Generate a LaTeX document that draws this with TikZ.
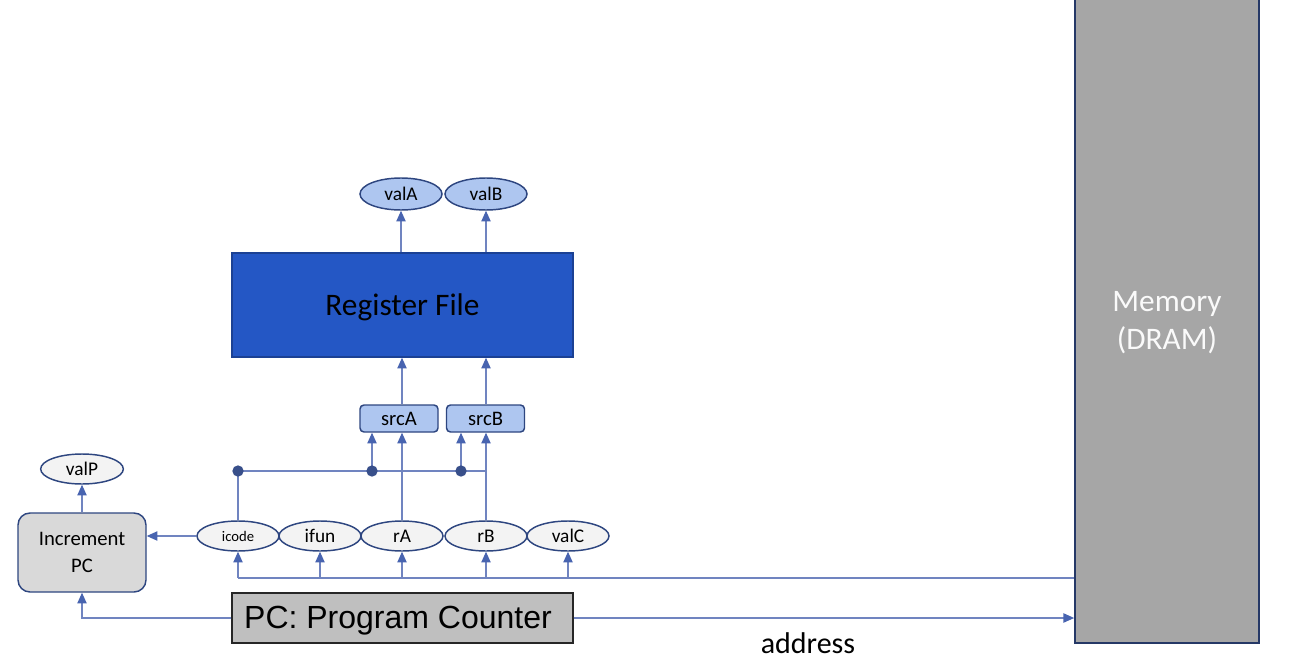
\documentclass[tikz,border=0pt]{standalone}
\usepackage{fontspec}
\setmainfont{Carlito}
\newfontfamily\arialf{Liberation Sans}
\usetikzlibrary{arrows.meta,shapes.geometric,calc}
\definecolor{lnc}{RGB}{112,132,192}
\definecolor{tipc}{RGB}{72,100,176}
\definecolor{bordc}{RGB}{46,70,128}
\definecolor{lblue}{RGB}{174,198,240}
\definecolor{lgray}{RGB}{243,243,243}
\definecolor{rfblue}{RGB}{36,87,197}
\definecolor{memgray}{RGB}{166,166,166}
\tikzset{
  ln/.style={draw=lnc, line width=0.8pt},
  arr/.style={ln, -{Triangle[length=8pt,width=7pt,fill=tipc,color=tipc]}},
  ovalg/.style={ellipse, draw=bordc, line width=1.1pt, fill=lgray, inner sep=0pt,
    minimum width=61.5pt, minimum height=22.5pt, font=\fontsize{14.5}{16}\selectfont},
  ovalb/.style={ellipse, draw=bordc, line width=1.1pt, fill=lblue, inner sep=0pt,
    minimum width=61.5pt, minimum height=24pt, font=\fontsize{14.5}{16}\selectfont},
  srcbox/.style={rectangle, rounded corners=3pt, draw=bordc, line width=1.1pt, fill=lblue,
    inner sep=0pt, minimum width=58.5pt, minimum height=20.25pt, font=\fontsize{15.5}{17}\selectfont},
  dot/.style={circle, fill=bordc!85!lnc, inner sep=0pt, minimum size=8.5pt},
}
\begin{document}
\begin{tikzpicture}[x=0.75pt,y=-0.75pt]
\useasboundingbox (0,0) rectangle (1299,660);
\clip (0,0) rectangle (1299,660);
% Memory
\node[rectangle, draw=bordc!80!black, line width=1.3pt, fill=memgray, inner sep=0pt,
  minimum width=138pt, minimum height=489pt] (mem) at (1167,317) {};
\node[align=center, text=white!96!gray, font=\fontsize{23.5}{28.5}\selectfont] (memtxt) at (1167,323) {Memory\\(DRAM)};
% Register file
\node[rectangle, draw=rfblue!75!black, line width=1.1pt, fill=rfblue, inner sep=0pt,
  minimum width=255.75pt, minimum height=78pt] (rf) at (402.5,305) {};
\node[font=\fontsize{23.5}{28}\selectfont] (rftxt) at (402.5,307) {Register File};
% valA valB
\node[ovalb] (valA) at (401,194) {valA};
\node[ovalb] (valB) at (486,194) {valB};
% srcA srcB
\node[srcbox] (srcA) at (399,418.5) {srcA};
\node[srcbox] (srcB) at (485.5,418.5) {srcB};
% field ellipses
\node[ovalg, font=\fontsize{11}{13}\selectfont] (icode) at (238,536) {icode};
\node[ovalg] (ifun) at (320,536) {ifun};
\node[ovalg] (rA) at (402,536) {rA};
\node[ovalg] (rB) at (486,536) {rB};
\node[ovalg] (valC) at (568,536) {valC};
% Increment PC
\node[rectangle, rounded corners=9pt, draw=bordc, line width=1.1pt, fill=black!15, inner sep=0pt,
  minimum width=96pt, minimum height=59.25pt, align=center, font=\fontsize{15.5}{20}\selectfont] (inc) at (82,552.5) {Increment\\PC};
\node[ovalg, minimum width=62pt] (valP) at (82,469) {valP};
% PC
\node[rectangle, draw=black!85, line width=1.1pt, fill=black!25, inner sep=0pt,
  minimum width=255.75pt, minimum height=37.5pt] (pc) at (402.5,618) {};
\node[font=\arialf\fontsize{24}{28}\selectfont] (pctxt) at (398,621) {PC: Program Counter};
\node[font=\fontsize{22.5}{26}\selectfont, anchor=center] (addr) at (808,643) {address};
% coordinates
\coordinate (d1) at (238,471);
\coordinate (d2) at (372,471);
\coordinate (d3) at (461,471);
\coordinate (bus) at (238,578);
% connectors
\draw[arr] (valA.south |- rf.north) -- (valA.south);
\draw[arr] (valB.south |- rf.north) -- (valB.south);
\draw[arr] (srcA.north -| rA.north) -- (rf.south -| rA.north);
\draw[arr] (srcB.north -| rB.north) -- (rf.south -| rB.north);
\draw[arr] (rA.north) -- (rA.north |- srcA.south);
\draw[arr] (rB.north) -- (rB.north |- srcB.south);
\draw[ln] (icode.north) -- (d1) -- (d1 -| rB.north);
\draw[arr] (d2) -- (d2 |- srcA.south);
\draw[arr] (d3) -- (d3 |- srcB.south);
\node[dot] (n1) at (d1) {};
\node[dot] (n2) at (d2) {};
\node[dot] (n3) at (d3) {};
\draw[ln] (bus) -- (bus -| mem.west);
\foreach \f in {icode,ifun,rA,rB,valC}{
  \draw[arr] (\f.south |- bus) -- (\f.south);
}
\draw[arr] (icode.west) -- (inc.east |- icode.west);
\draw[arr] (inc.north) -- (valP.south);
\draw[arr] (pc.west) -| (inc.south);
\draw[arr] (pc.east) -- (pc.east -| mem.west);
\end{tikzpicture}
\end{document}
